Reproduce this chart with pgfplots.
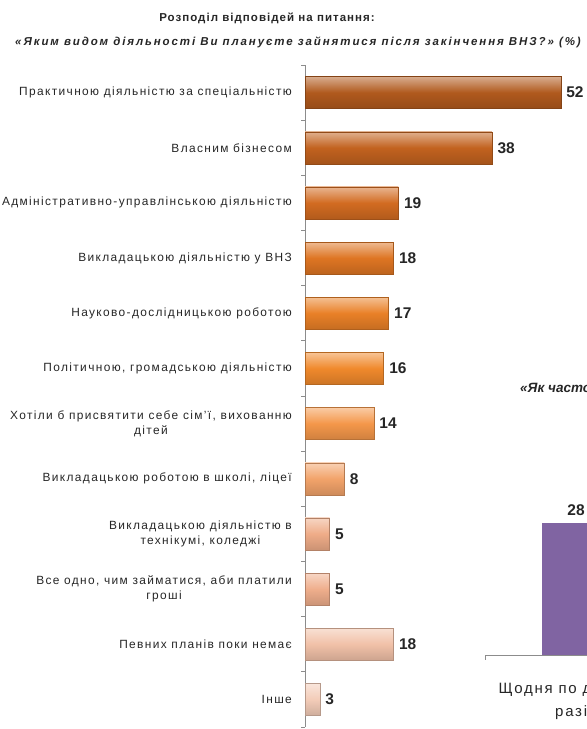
\documentclass[border=0pt]{standalone}
\usepackage{pgfplots}
\pgfplotsset{compat=1.18}
\usepackage{fontspec}
\setmainfont{Liberation Sans}
\newfontfamily\labfont{Liberation Sans}[LetterSpace=11.5]
\newfontfamily\ttlafont{Liberation Sans}[LetterSpace=9]
\newfontfamily\ttlbfont{Liberation Sans}[LetterSpace=16.5]
\newfontfamily\rfont{Liberation Sans}[LetterSpace=11.5]
\definecolor{txt}{HTML}{262626}
\definecolor{axgray}{HTML}{8C8C8C}
\definecolor{c1}{HTML}{B0591D}
\definecolor{c2}{HTML}{C2621F}
\definecolor{c3}{HTML}{D26B21}
\definecolor{c4}{HTML}{DE7523}
\definecolor{c5}{HTML}{E98027}
\definecolor{c6}{HTML}{F0892C}
\definecolor{c7}{HTML}{F4974A}
\definecolor{c8}{HTML}{F2A36A}
\definecolor{c9}{HTML}{EFAC88}
\definecolor{c10}{HTML}{EFAE8C}
\definecolor{c11}{HTML}{F1C1A8}
\definecolor{c12}{HTML}{F3CCB8}
\definecolor{purp}{HTML}{8064A2}
\pgfplotsset{
  obar/.style={xbar, bar width=32bp, bar shift=0pt, draw=#1!75!black, line width=0.5bp,
    top color=#1!50!white, bottom color=#1!85!black, middle color=#1},
}
\begin{document}
\begin{tikzpicture}
\clip (0bp,0bp) rectangle (587bp,729bp);
\path[use as bounding box] (0bp,0bp) rectangle (587bp,729bp);
\node[font=\ttlafont\bfseries\fontsize{11.5bp}{13bp}\selectfont, text=txt] at (267bp,711bp) {Розподіл відповідей на питання:};
\node[font=\ttlbfont\bfseries\itshape\fontsize{11.5bp}{13bp}\selectfont, text=txt] at (298bp,687bp) {«Яким видом діяльності Ви плануєте зайнятися після закінчення ВНЗ?» (\%)};
\begin{axis}[
  at={(305bp,2bp)}, anchor=south west, scale only axis,
  width=280.4bp, height=662bp,
  xmin=0, xmax=57, ymin=-0.5, ymax=11.5, y dir=reverse,
  axis y line*=left, axis x line=none,
  y axis line style={axgray, line width=0.8bp},
  xtick=\empty,
  ytick={0,...,11}, major tick length=0pt,
  yticklabels={
    {Практичною діяльністю за спеціальністю},
    {Власним бізнесом},
    {Адміністративно-управлінською діяльністю},
    {Викладацькою діяльністю у ВНЗ},
    {Науково-дослідницькою роботою},
    {Політичною, громадською діяльністю},
    {Хотіли б присвятити себе сім’ї, вихованню\\дітей},
    {Викладацькою роботою в школі, ліцеї},
    {Викладацькою діяльністю в\\технікумі, коледжі},
    {Все одно, чим займатися, аби платили\\гроші},
    {Певних планів поки немає},
    {Інше}},
  yticklabel style={font=\labfont\fontsize{11.9bp}{15bp}\selectfont, text=txt, align=center, anchor=east, inner sep=0pt, xshift=-13bp},
  extra y ticks={-0.5,0.5,...,11.5}, extra y tick labels={},
  extra y tick style={major tick length=4bp, tick align=outside, tick style={axgray, line width=0.8bp}},
  clip=false,
  point meta=x,
  /pgf/number format/assume math mode=true,
  nodes near coords,
  every node near coord/.append style={font=\bfseries\fontsize{15.5bp}{17bp}\selectfont, text=txt, anchor=west, xshift=2bp},
]
\addplot[obar=c1] coordinates {(52,0)};
\addplot[obar=c2] coordinates {(38,1)};
\addplot[obar=c3] coordinates {(19,2)};
\addplot[obar=c4] coordinates {(18,3)};
\addplot[obar=c5] coordinates {(17,4)};
\addplot[obar=c6] coordinates {(16,5)};
\addplot[obar=c7] coordinates {(14,6)};
\addplot[obar=c8] coordinates {(8,7)};
\addplot[obar=c9] coordinates {(5,8)};
\addplot[obar=c10] coordinates {(5,9)};
\addplot[obar=c11] coordinates {(18,10)};
\addplot[obar=c12] coordinates {(3,11)};
\end{axis}
\node[font=\bfseries\itshape\fontsize{13.5bp}{15bp}\selectfont, text=txt, anchor=west, inner sep=0pt] at (520bp,341bp) {«Як часто Ви};
\begin{axis}[
  at={(485bp,74bp)}, anchor=south west, scale only axis,
  width=182bp, height=188.6bp,
  xmin=-0.5, xmax=0.5, ymin=0, ymax=40,
  axis x line*=bottom, axis y line=none,
  x axis line style={axgray, line width=0.8bp},
  ytick=\empty, xtick={0}, major tick length=0pt,
  xticklabels={{Щодня по декілька\\разів}},
  xticklabel style={font=\rfont\fontsize{15bp}{23bp}\selectfont, text=txt, align=center, anchor=north, inner sep=0pt, yshift=-27bp},
  extra x ticks={-0.5}, extra x tick labels={},
  extra x tick style={major tick length=5bp, tick align=outside, tick style={axgray, line width=0.8bp}},
  clip=false,
  /pgf/number format/assume math mode=true,
  nodes near coords,
  every node near coord/.append style={font=\bfseries\fontsize{15.5bp}{17bp}\selectfont, text=txt, anchor=south, yshift=4bp},
]
\addplot[ybar, bar width=68bp, bar shift=0pt, fill=purp, draw=none] coordinates {(0,28)};
\end{axis}
\end{tikzpicture}
\end{document}
